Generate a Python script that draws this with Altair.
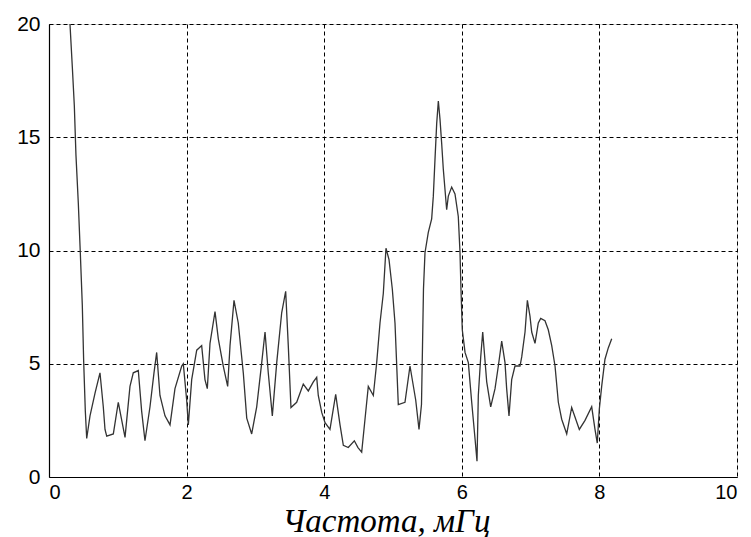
import altair as alt
import pandas as pd

freq = [0.305, 0.339, 0.368, 0.392, 0.426, 0.455, 0.484, 0.504, 0.528, 0.548,
        0.596, 0.669, 0.741, 0.789, 0.814, 0.839, 0.935, 1.007, 1.105, 1.177,
        1.225, 1.298, 1.347, 1.395, 1.468, 1.526, 1.565, 1.613, 1.686, 1.759,
        1.831, 1.929, 1.952, 2.001, 2.025, 2.074, 2.147, 2.219, 2.267, 2.301,
        2.340, 2.413, 2.461, 2.533, 2.597, 2.631, 2.689, 2.751, 2.824, 2.874,
        2.946, 3.019, 3.092, 3.140, 3.187, 3.246, 3.310, 3.382, 3.440, 3.478,
        3.517, 3.600, 3.696, 3.769, 3.842, 3.891, 3.914, 3.964, 4.012, 4.084,
        4.167, 4.230, 4.278, 4.350, 4.438, 4.491, 4.545, 4.593, 4.641, 4.714,
        4.763, 4.811, 4.859, 4.898, 4.942, 4.990, 5.029, 5.077, 5.174, 5.247,
        5.330, 5.378, 5.414, 5.429, 5.443, 5.465, 5.513, 5.562, 5.586, 5.610,
        5.635, 5.659, 5.683, 5.708, 5.731, 5.780, 5.804, 5.853, 5.901, 5.949,
        5.974, 5.988, 6.007, 6.047, 6.095, 6.144, 6.192, 6.221, 6.240, 6.275,
        6.304, 6.362, 6.420, 6.483, 6.531, 6.580, 6.628, 6.652, 6.686, 6.725,
        6.773, 6.846, 6.871, 6.919, 6.953, 6.991, 7.016, 7.064, 7.112, 7.147,
        7.209, 7.257, 7.307, 7.355, 7.403, 7.452, 7.525, 7.597, 7.708, 7.791,
        7.888, 7.936, 7.969, 7.999, 8.033, 8.081, 8.129, 8.179]

amp = [20.0, 18.1, 16.4, 14.2, 12.1, 9.9, 7.6, 5.1, 2.9, 1.7,
       2.7, 3.7, 4.6, 3.1, 2.1, 1.8, 1.9, 3.3, 1.75, 4.0,
       4.6, 4.7, 2.9, 1.6, 3.1, 4.6, 5.5, 3.6, 2.7, 2.3,
       3.9, 4.9, 5.0, 3.4, 2.3, 4.3, 5.6, 5.8, 4.3, 3.9,
       5.9, 7.3, 6.1, 4.9, 4.0, 5.8, 7.8, 6.8, 4.6, 2.6,
       1.9, 3.1, 5.05, 6.4, 4.6, 2.7, 5.05, 7.25, 8.2, 5.8,
       3.07, 3.3, 4.1, 3.8, 4.2, 4.4, 3.6, 2.85, 2.4, 2.1,
       3.65, 2.3, 1.4, 1.3, 1.6, 1.3, 1.1, 2.55, 4.0, 3.6,
       5.05, 6.8, 8.1, 10.1, 9.6, 8.3, 6.8, 3.2, 3.3, 4.9,
       3.4, 2.1, 3.2, 5.8, 8.3, 9.9, 10.8, 11.4, 12.4, 14.0,
       15.6, 16.6, 15.8, 14.7, 13.6, 11.8, 12.4, 12.8, 12.5, 11.5,
       9.9, 8.3, 6.5, 5.5, 5.05, 3.3, 1.7, 0.7, 3.6, 5.3,
       6.4, 4.2, 3.1, 3.9, 4.9, 6.0, 5.05, 3.9, 2.7, 4.3,
       4.9, 4.9, 5.3, 6.4, 7.8, 7.1, 6.4, 5.9, 6.8, 7.0,
       6.9, 6.5, 5.8, 4.9, 3.3, 2.55, 1.9, 3.07, 2.1, 2.5,
       3.1, 2.1, 1.5, 3.0, 4.0, 5.2, 5.7, 6.1]

x_ticks = [0, 2, 4, 6, 8, 10]
y_ticks = [0, 5, 10, 15, 20]

df = pd.DataFrame({"f": freq, "a": amp})

line = alt.Chart(df).mark_line(color="#333333", strokeWidth=1.3, clip=True).encode(
    x=alt.X("f:Q",
            scale=alt.Scale(domain=[0, 10], nice=False, zero=False),
            axis=alt.Axis(values=x_ticks, title="Частота, мГц", format="d",
                          grid=True, gridColor="#000000", gridDash=[4, 3], gridWidth=1,
                          gridOpacity=1,
                          domainColor="#000000", domainWidth=1.2,
                          ticks=False, labelPadding=5,
                          labelFont="Liberation Sans", labelFontSize=20,
                          labelColor="#000000",
                          titleFont="Liberation Serif", titleFontStyle="italic",
                          titleFontWeight="normal", titleFontSize=33,
                          titleColor="#000000", titlePadding=0,
                          titleX=337, titleBaseline="alphabetic", titleY=54)),
    y=alt.Y("a:Q",
            scale=alt.Scale(domain=[0, 20], nice=False, zero=True),
            axis=alt.Axis(values=y_ticks, title=None, format="d",
                          grid=True, gridColor="#000000", gridDash=[4, 3], gridWidth=1,
                          gridOpacity=1,
                          domainColor="#000000", domainWidth=1.2,
                          ticks=False, labelPadding=9,
                          labelFont="Liberation Sans", labelFontSize=21,
                          labelColor="#000000")),
)

chart = line.properties(
    width=688,
    height=453,
    autosize=alt.AutoSizeParams(type="none"),
    padding={"left": 49, "top": 24, "right": 14, "bottom": 60},
).configure_view(stroke=None).configure(background="#ffffff")

chart.save("out.html", embed_options={"renderer": "svg", "actions": False})
